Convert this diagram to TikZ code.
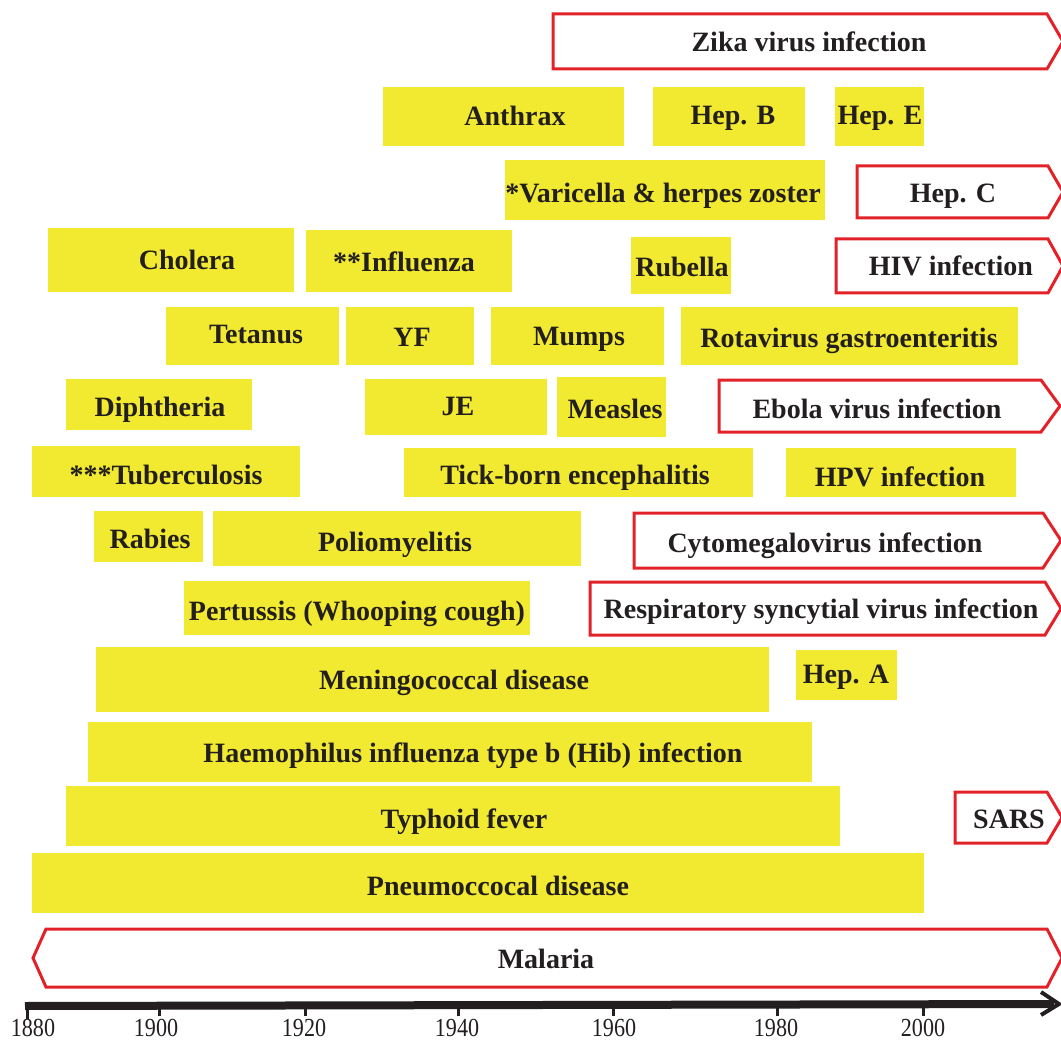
\documentclass[tikz,border=0pt]{standalone}
\usepackage{fontspec}
\setmainfont{Liberation Serif}
\usepackage{graphicx}
\definecolor{ybox}{RGB}{242,234,48}
\definecolor{rline}{RGB}{226,34,40}
\definecolor{txt}{RGB}{35,31,32}
\newcommand\redarrow[5]{\draw[ra] (#1,#2) -- (#3,#2) -- (#5,{(#2+#4)/2}) -- (#3,#4) -- (#1,#4) -- cycle;}
\begin{document}
\begin{tikzpicture}[x=1pt,y=-1pt,
  lbl/.style={anchor=base, text=txt, font=\fontsize{28}{30}\selectfont\bfseries, inner sep=0pt},
  yr/.style={fill=ybox},
  ra/.style={draw=rline, line width=3pt, line join=miter, fill=white},
  yearlbl/.style={anchor=base, text=txt, font=\fontsize{26}{27}\selectfont, inner sep=0pt},
  tick/.style={line width=3pt, draw=txt}
]
\useasboundingbox (0,0) rectangle (1061,1043);
\clip (0,0) rectangle (1061,1043);

% yellow boxes
\fill[yr] (383,87) rectangle (624,146);
\fill[yr] (653,87) rectangle (805,146);
\fill[yr] (835,87) rectangle (924,146);
\fill[yr] (505,160) rectangle (825,220);
\fill[yr] (48,228) rectangle (294,292);
\fill[yr] (306,230) rectangle (512,292);
\fill[yr] (631,237) rectangle (731,294);
\fill[yr] (166,307) rectangle (339,365);
\fill[yr] (346,307) rectangle (474,365);
\fill[yr] (491,307) rectangle (664,365);
\fill[yr] (681,307) rectangle (1018,365);
\fill[yr] (66,379) rectangle (252,430);
\fill[yr] (365,379) rectangle (547,435);
\fill[yr] (557,377) rectangle (666,437);
\fill[yr] (32,446) rectangle (300,497);
\fill[yr] (404,448) rectangle (753,497);
\fill[yr] (786,448) rectangle (1016,497);
\fill[yr] (94,511) rectangle (203,562);
\fill[yr] (213,511) rectangle (581,566);
\fill[yr] (184,581) rectangle (530,635);
\fill[yr] (96,647) rectangle (769,712);
\fill[yr] (796,650) rectangle (897,700);
\fill[yr] (88,722) rectangle (812,782);
\fill[yr] (66,786) rectangle (840,846);
\fill[yr] (32,853) rectangle (924,913);

% red arrow boxes
\redarrow{553}{14}{1047}{69}{1063}
\redarrow{857}{166}{1048}{218}{1063}
\redarrow{836}{239}{1048}{293}{1063}
\redarrow{719}{380}{1041}{432}{1060}
\redarrow{634}{513}{1043}{568}{1061}
\redarrow{590}{582}{1045}{635}{1061}
\redarrow{955}{792}{1047}{843}{1062}
\draw[ra] (33,958) -- (46,929) -- (1047,929) -- (1062,958) -- (1047,987) -- (46,987) -- cycle;

% labels
\node[lbl] (zika) at (809,52) {Zika virus infection};
\node[lbl] (anthrax) at (515,126) {Anthrax};
\node[lbl] (hepb) at (733,125) {Hep. B};
\node[lbl] (hepe) at (880,125) {Hep. E};
\node[lbl] (vari) at (663,203) {*Varicella \& herpes zoster};
\node[lbl] (hepc) at (953,203) {Hep. C};
\node[lbl] (cholera) at (187,270) {Cholera};
\node[lbl] (influ) at (404,272) {**Influenza};
\node[lbl] (rubella) at (682,277) {Rubella};
\node[lbl] (hiv) at (951,276) {HIV infection};
\node[lbl] (tetanus) at (256,343) {Tetanus};
\node[lbl] (yf) at (412,346) {YF};
\node[lbl] (mumps) at (579,345) {Mumps};
\node[lbl] (rota) at (849,347) {Rotavirus gastroenteritis};
\node[lbl] (diph) at (160,416) {Diphtheria};
\node[lbl] (je) at (458,415) {JE};
\node[lbl] (measles) at (615,418) {Measles};
\node[lbl] (ebola) at (877,418) {Ebola virus infection};
\node[lbl] (tb) at (166,484) {***Tuberculosis};
\node[lbl] (tick) at (575,484) {Tick-born encephalitis};
\node[lbl] (hpv) at (900,486) {HPV infection};
\node[lbl] (rabies) at (150,548) {Rabies};
\node[lbl] (polio) at (395,551) {Poliomyelitis};
\node[lbl] (cmv) at (825,552) {Cytomegalovirus infection};
\node[lbl] (pert) at (357,620) {Pertussis (Whooping cough)};
\node[lbl] (rsv) at (821,618) {Respiratory syncytial virus infection};
\node[lbl] (mening) at (454,689) {Meningococcal disease};
\node[lbl] (hepa) at (846,683) {Hep. A};
\node[lbl] (hib) at (473,762) {Haemophilus influenza type b (Hib) infection};
\node[lbl] (typhoid) at (464,828) {Typhoid fever};
\node[lbl] (sars) at (1009,828) {SARS};
\node[lbl] (pneumo) at (498,895) {Pneumoccocal disease};
\node[lbl] (malaria) at (546,968) {Malaria};

% axis
\coordinate (axs) at (25,1006);
\coordinate (axe) at (1054,1004);
\draw[line width=8pt, draw=txt] (axs) -- (axe);
\draw[line width=4pt, draw=txt, line join=miter] (1041,992) -- (1059,1004) -- (1041,1015);
\foreach \x in {159, 305, 458, 613, 777, 923}{
  \draw[tick] (\x,1005) -- (\x,1016);
}
\draw[tick] (27,1005) -- (27,1019);
\foreach \lx/\yr in {33/1880, 156/1900, 304/1920, 457/1940, 614/1960, 776/1980, 923/2000}{
  \node[yearlbl] (y\yr) at (\lx,1036.5) {\scalebox{0.85}[1]{\yr}};
}
\end{tikzpicture}
\end{document}
